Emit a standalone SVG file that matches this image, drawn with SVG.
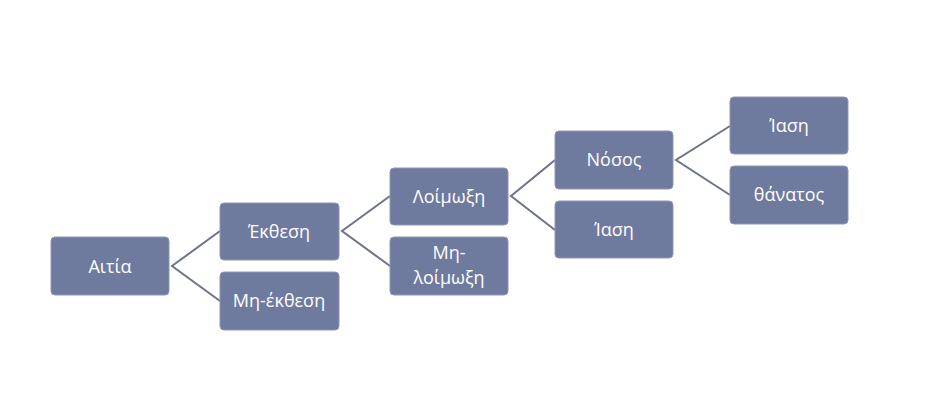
<svg xmlns="http://www.w3.org/2000/svg" width="937" height="400" viewBox="0 0 937 400">
<style>
.n{fill:#6F7A9F;stroke:#8E97B5;stroke-width:1}
.t{fill:#fff;font-family:"Open Sans","Liberation Sans",sans-serif;font-size:18px;text-anchor:middle}
.c{stroke:#6C7488;stroke-width:2;fill:none}
</style>
<rect width="937" height="400" fill="#fff"/>
<g id="connectors">
<path class="c" d="M220,231 L172,266 L220,301"/>
<path class="c" d="M390,196 L342,231 L390,266"/>
<path class="c" d="M555,160 L511,196 L555,230"/>
<path class="c" d="M730,126 L676,160 L730,195"/>
</g>
<g id="n1"><rect class="n" x="51" y="237" width="118" height="58" rx="4"/><text class="t" x="110" y="273">Αιτία</text></g>
<g id="n2"><rect class="n" x="220" y="203" width="119" height="57" rx="4"/><text class="t" x="279" y="238">Έκθεση</text></g>
<g id="n3"><rect class="n" x="220" y="272" width="119" height="58" rx="4"/><text class="t" x="279" y="307">Μη-έκθεση</text></g>
<g id="n4"><rect class="n" x="390" y="168" width="118" height="57" rx="4"/><text class="t" x="449" y="203">Λοίμωξη</text></g>
<g id="n5"><rect class="n" x="390" y="237" width="118" height="58" rx="4"/><text class="t" x="449" y="259">Μη-</text><text class="t" x="449" y="284">λοίμωξη</text></g>
<g id="n6"><rect class="n" x="555" y="131" width="118" height="58" rx="4"/><text class="t" x="614" y="166">Νόσος</text></g>
<g id="n7"><rect class="n" x="555" y="201" width="118" height="57" rx="4"/><text class="t" x="614" y="236">Ίαση</text></g>
<g id="n8"><rect class="n" x="730" y="97" width="118" height="57" rx="4"/><text class="t" x="789" y="132">Ίαση</text></g>
<g id="n9"><rect class="n" x="730" y="166" width="118" height="58" rx="4"/><text class="t" x="789" y="201">θάνατος</text></g>
</svg>
